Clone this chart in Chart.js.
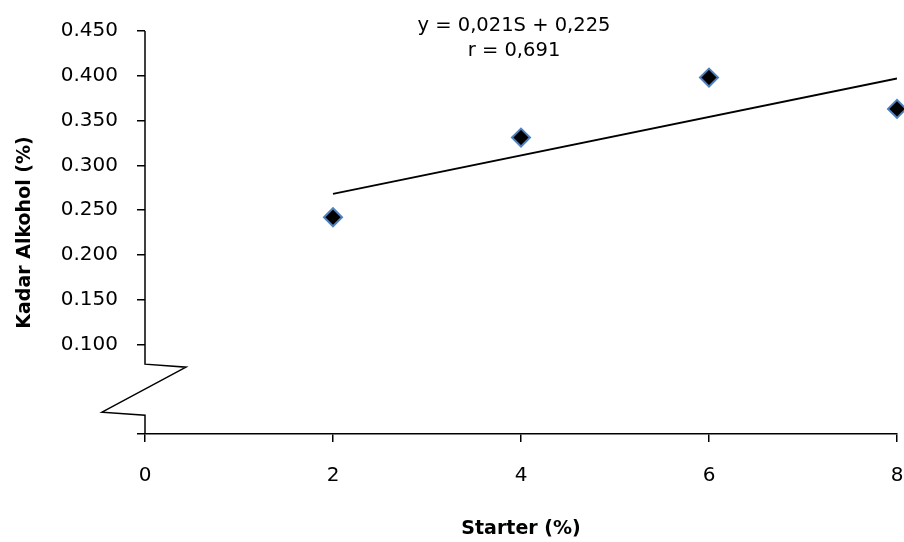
<!DOCTYPE html>
<html><head><meta charset="utf-8">
<script src="https://cdn.jsdelivr.net/npm/chart.js@4/dist/chart.umd.min.js"></script>
<style>html,body{margin:0;padding:0;background:#fff}#wrap{width:904px;height:542px}</style>
</head><body><div id="wrap"><canvas id="c" width="904" height="542"></canvas></div>
<script>
const starter = [2, 4, 6, 8];
const alkohol = [0.242, 0.331, 0.398, 0.363];
const trendX = [2, 8];
const trendY = [0.268, 0.397];
const xTickValues = [0, 2, 4, 6, 8];
const yTickLabels = ['0.100', '0.150', '0.200', '0.250', '0.300', '0.350', '0.400', '0.450'];
const equationLines = ['y = 0,021S + 0,225', 'r = 0,691'];
const xTitle = 'Starter (%)';
const yTitle = 'Kadar Alkohol (%)';

const FONT = 'DejaVu Sans';
const breakTop = 0.078, breakBottom = 0.021;

const axisBreak = {
  id: 'axisBreak',
  afterDraw(chart) {
    const ctx = chart.ctx, y = chart.scales.y, x = chart.scales.x;
    const ax = x.getPixelForValue(0);
    const yTop = y.getPixelForValue(0.45);
    const yb1 = y.getPixelForValue(breakTop);
    const yb2 = y.getPixelForValue(breakBottom);
    const y0 = y.getPixelForValue(0);
    ctx.save();
    ctx.strokeStyle = '#000';
    ctx.lineWidth = 1.5;
    ctx.beginPath();
    ctx.moveTo(ax, yTop);
    ctx.lineTo(ax, yb1);
    ctx.lineTo(ax + 41, yb1 + 3);
    ctx.lineTo(ax - 43, yb2 - 3);
    ctx.lineTo(ax, yb2);
    ctx.lineTo(ax, y0);
    ctx.stroke();
    ctx.fillStyle = '#000';
    ctx.font = '19.5px "' + FONT + '"';
    ctx.textAlign = 'center';
    ctx.textBaseline = 'alphabetic';
    const cx = x.getPixelForValue(4) - 7;
    ctx.fillText(equationLines[0], cx, 31);
    ctx.fillText(equationLines[1], cx, 56);
    ctx.restore();
  }
};

new Chart(document.getElementById('c'), {
  type: 'scatter',
  data: {
    datasets: [
      {
        label: 'Trend', type: 'line',
        data: trendX.map((v, i) => ({x: v, y: trendY[i]})),
        borderColor: '#000', borderWidth: 1.8, pointRadius: 0, fill: false, order: 2
      },
      {
        label: 'Kadar Alkohol',
        data: starter.map((v, i) => ({x: v, y: alkohol[i]})),
        pointStyle: 'rectRot', pointRadius: 9, pointHoverRadius: 9,
        backgroundColor: '#000', borderColor: '#4f81bd', borderWidth: 2, clip: false, order: 1
      }
    ]
  },
  options: {
    responsive: false, devicePixelRatio: 1, animation: false, events: [],
    layout: {autoPadding: false, padding: {left: 0, right: 7, top: 31, bottom: 0}},
    plugins: {legend: {display: false}, tooltip: {enabled: false}},
    scales: {
      x: {
        type: 'linear', min: 0, max: 8,
        afterBuildTicks: s => { s.ticks = xTickValues.map(v => ({value: v})); },
        afterFit: s => { s.height = 108; s.paddingRight = 0; s.paddingLeft = 0; },
        grid: {drawOnChartArea: false, drawTicks: true, tickLength: 8, color: '#000', lineWidth: 1.5},
        border: {display: true, color: '#000', width: 1.5},
        ticks: {color: '#000', font: {family: FONT, size: 20}, padding: 22, callback: v => String(v)},
        title: {display: true, text: xTitle, color: '#000', font: {family: FONT, size: 19, weight: 'bold'}, padding: {top: 0, bottom: 2}}
      },
      y: {
        type: 'linear', min: 0, max: 0.45,
        afterBuildTicks: s => {
          const t = [{value: 0}];
          yTickLabels.forEach(l => t.push({value: parseFloat(l)}));
          s.ticks = t;
        },
        afterFit: s => { s.width = 145; },
        grid: {drawOnChartArea: false, drawTicks: true, tickLength: 8, color: '#000', lineWidth: 1.5},
        border: {display: false},
        ticks: {
          color: '#000', font: {family: FONT, size: 20}, padding: 19,
          callback: v => {
            const l = yTickLabels.find(s => Math.abs(parseFloat(s) - v) < 1e-6);
            return l || '';
          }
        },
        title: {display: true, text: yTitle, color: '#000', font: {family: FONT, size: 19, weight: 'bold'}, padding: {top: 14, bottom: 0}}
      }
    }
  },
  plugins: [axisBreak]
});
</script>
</body></html>
